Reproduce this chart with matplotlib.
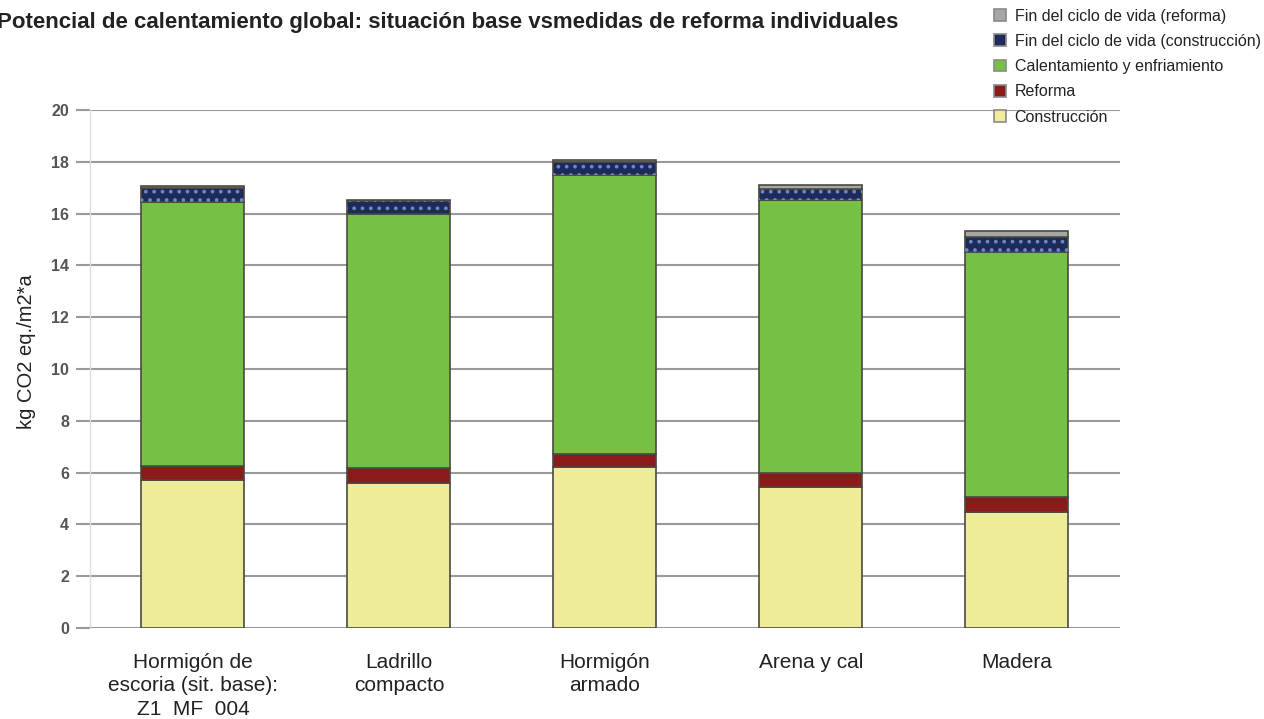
import numpy as np
import matplotlib
matplotlib.use("Agg")
from matplotlib import pyplot as plt
from matplotlib.patches import Patch

# Datos (kg CO2 eq./m2*a)
categorias = ["Hormigón de\nescoria (sit. base):\nZ1  MF  004",
              "Ladrillo\ncompacto", "Hormigón\narmado", "Arena y cal", "Madera"]
construccion = [5.71, 5.60, 6.23, 5.44, 4.49]
reforma = [0.56, 0.58, 0.50, 0.54, 0.58]
calentamiento = [10.19, 9.82, 10.76, 10.54, 9.46]
fin_construccion = [0.53, 0.50, 0.51, 0.42, 0.58]
fin_reforma = [0.08, 0.03, 0.06, 0.15, 0.23]

series = [
    ("Construcción", construccion, "#eeec98"),
    ("Reforma", reforma, "#8b1a1a"),
    ("Calentamiento y enfriamiento", calentamiento, "#76c043"),
    ("Fin del ciclo de vida (construcción)", fin_construccion, "#1c2a5c"),
    ("Fin del ciclo de vida (reforma)", fin_reforma, "#a6a6a6"),
]
y_ticks = [0, 2, 4, 6, 8, 10, 12, 14, 16, 18, 20]

plt.rcParams["font.family"] = ["Liberation Sans", "DejaVu Sans"]
plt.rcParams["hatch.linewidth"] = 1.5

fig = plt.figure(figsize=(12.64, 7.19), dpi=100, facecolor="white")
ax = fig.add_axes([0.0712, 0.1266, 0.8148, 0.7204])

x = np.arange(len(categorias))
ancho = 0.5
base = np.zeros(len(categorias))
for nombre, valores, color in series:
    valores = np.array(valores)
    ax.bar(x, valores, ancho, bottom=base, color=color, edgecolor="#4a4a40",
           linewidth=1.2, zorder=3)
    if nombre == "Fin del ciclo de vida (construcción)":
        # puntos claros sobre el azul oscuro
        ax.bar(x, valores, ancho, bottom=base, color="none", edgecolor="#6f86c0",
               hatch="..", linewidth=0, zorder=4)
    base = base + valores

ax.set_xlim(-0.5, len(categorias) - 0.5)
ax.set_ylim(0, 20)
ax.set_yticks(y_ticks)
ax.set_yticklabels([str(t) for t in y_ticks], fontweight="bold", color="#555555",
                   fontsize=11.5)
ax.tick_params(axis="y", length=10, width=1.5, color="#9a9a9a", pad=5)
ax.set_xticks(x)
ax.set_xticklabels(categorias, fontsize=15, color="#222222", linespacing=1.3)
ax.tick_params(axis="x", length=0, pad=18)

ax.yaxis.grid(True, color="#9a9a9a", linewidth=1.5, zorder=0)
ax.set_axisbelow(True)
for lado in ["top", "right", "bottom"]:
    ax.spines[lado].set_visible(False)
ax.spines["left"].set_color("#dddddd")
ax.spines["left"].set_linewidth(1.0)

ax.set_ylabel("kg CO2 eq./m2*a", fontsize=14.5, color="#222222")
ax.yaxis.set_label_coords(-0.052, 0.533)

fig.text(-0.002, 0.983, "Potencial de calentamiento global: situación base vsmedidas de reforma individuales",
         fontsize=16, fontweight="bold", color="#222222", ha="left", va="top")

handles = [Patch(facecolor=c, edgecolor="#8a8a8a", linewidth=1.2, label=n)
           for n, _, c in reversed(series)]
leg = fig.legend(handles=handles, loc="upper left", bbox_to_anchor=(0.775, 1.008),
                 frameon=False, fontsize=11.5, handlelength=0.75, handleheight=0.75,
                 handletextpad=0.55, labelspacing=0.64, labelcolor="#222222")

fig.savefig("out.png", dpi=100, facecolor="white")
